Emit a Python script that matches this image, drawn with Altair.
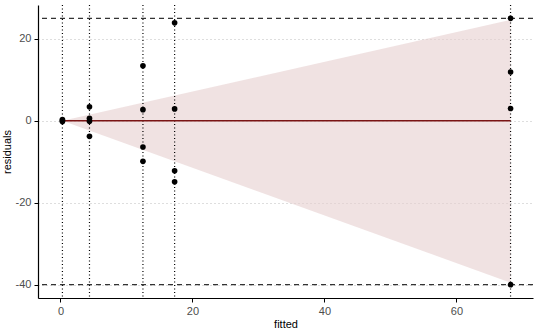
import altair as alt
import pandas as pd

# data
fitted_levels = [0.3, 4.4, 12.5, 17.3, 68.2]
res_0 = [0.3, 0.0, -0.2]
res_1 = [3.4, 0.6, -0.1, -3.8]
res_2 = [13.4, 2.7, -6.4, -9.9]
res_3 = [23.9, 2.9, -12.2, -14.9]
res_4 = [25.0, 11.9, 3.0, -40.0]
band_x = [0.3, 68.2]
band_lo = [0.0, -39.5]
band_hi = [0.0, 24.6]
ref_lines = [25, -40]
x_ticks = [0, 20, 40, 60]
y_ticks = [-40, -20, 0, 20]

groups = [res_0, res_1, res_2, res_3, res_4]
pts = pd.DataFrame(
    [{"fitted": f, "residuals": r} for f, g in zip(fitted_levels, groups) for r in g]
)
band = pd.DataFrame({"fitted": band_x, "lo": band_lo, "hi": band_hi})
zero = pd.DataFrame({"fitted": band_x, "residuals": [0, 0]})
vlines = pd.DataFrame({"fitted": fitted_levels})
hlines = pd.DataFrame({"residuals": ref_lines})

xs = alt.Scale(domain=[-3.4, 71.6], nice=False, zero=False)
ys = alt.Scale(domain=[-43.25, 28.25], nice=False, zero=False)

x_axis = alt.Axis(values=x_ticks, title="fitted", grid=False, labelExpr="'' + datum.value")
y_axis = alt.Axis(values=y_ticks, title="residuals", grid=True,
                  gridColor="#bdbdbd", gridDash=[1, 3], gridWidth=1,
                  labelExpr="'' + datum.value", titleX=-26)

ribbon = alt.Chart(band).mark_area(color="#e6cfcf", opacity=0.6).encode(
    x=alt.X("fitted:Q", scale=xs, axis=x_axis),
    y=alt.Y("lo:Q", scale=ys, axis=y_axis),
    y2="hi:Q",
)

vr = alt.Chart(vlines).mark_rule(color="black", strokeDash=[1, 2.5], strokeWidth=1.2).encode(
    x=alt.X("fitted:Q", scale=xs)
)

hr = alt.Chart(hlines).mark_rule(color="#333333", strokeDash=[5, 4], strokeWidth=1.2).encode(
    y=alt.Y("residuals:Q", scale=ys)
)

zl = alt.Chart(zero).mark_line(color="#7a1414", strokeWidth=1.3).encode(
    x=alt.X("fitted:Q", scale=xs),
    y=alt.Y("residuals:Q", scale=ys),
)

dots = alt.Chart(pts).mark_circle(color="black", opacity=1, size=32).encode(
    x=alt.X("fitted:Q", scale=xs),
    y=alt.Y("residuals:Q", scale=ys),
)

chart = alt.layer(ribbon, vr, hr, zl, dots).properties(
    width=495, height=293,
    autosize=alt.AutoSizeParams(type="none"),
    padding={"left": 38, "top": 5, "right": 7, "bottom": 35},
).configure_view(stroke=None).configure_axis(
    domainColor="black", domainWidth=1.2, tickColor="black", tickSize=4,
    labelFont="Liberation Sans", labelFontSize=11, labelColor="#4d4d4d",
    titleFont="Liberation Sans", titleFontSize=11, titleFontWeight="normal",
    titleColor="black", labelPadding=3,
).configure_axisX(titlePadding=2)

chart.save("out.html", embed_options={"renderer": "svg", "actions": False})
